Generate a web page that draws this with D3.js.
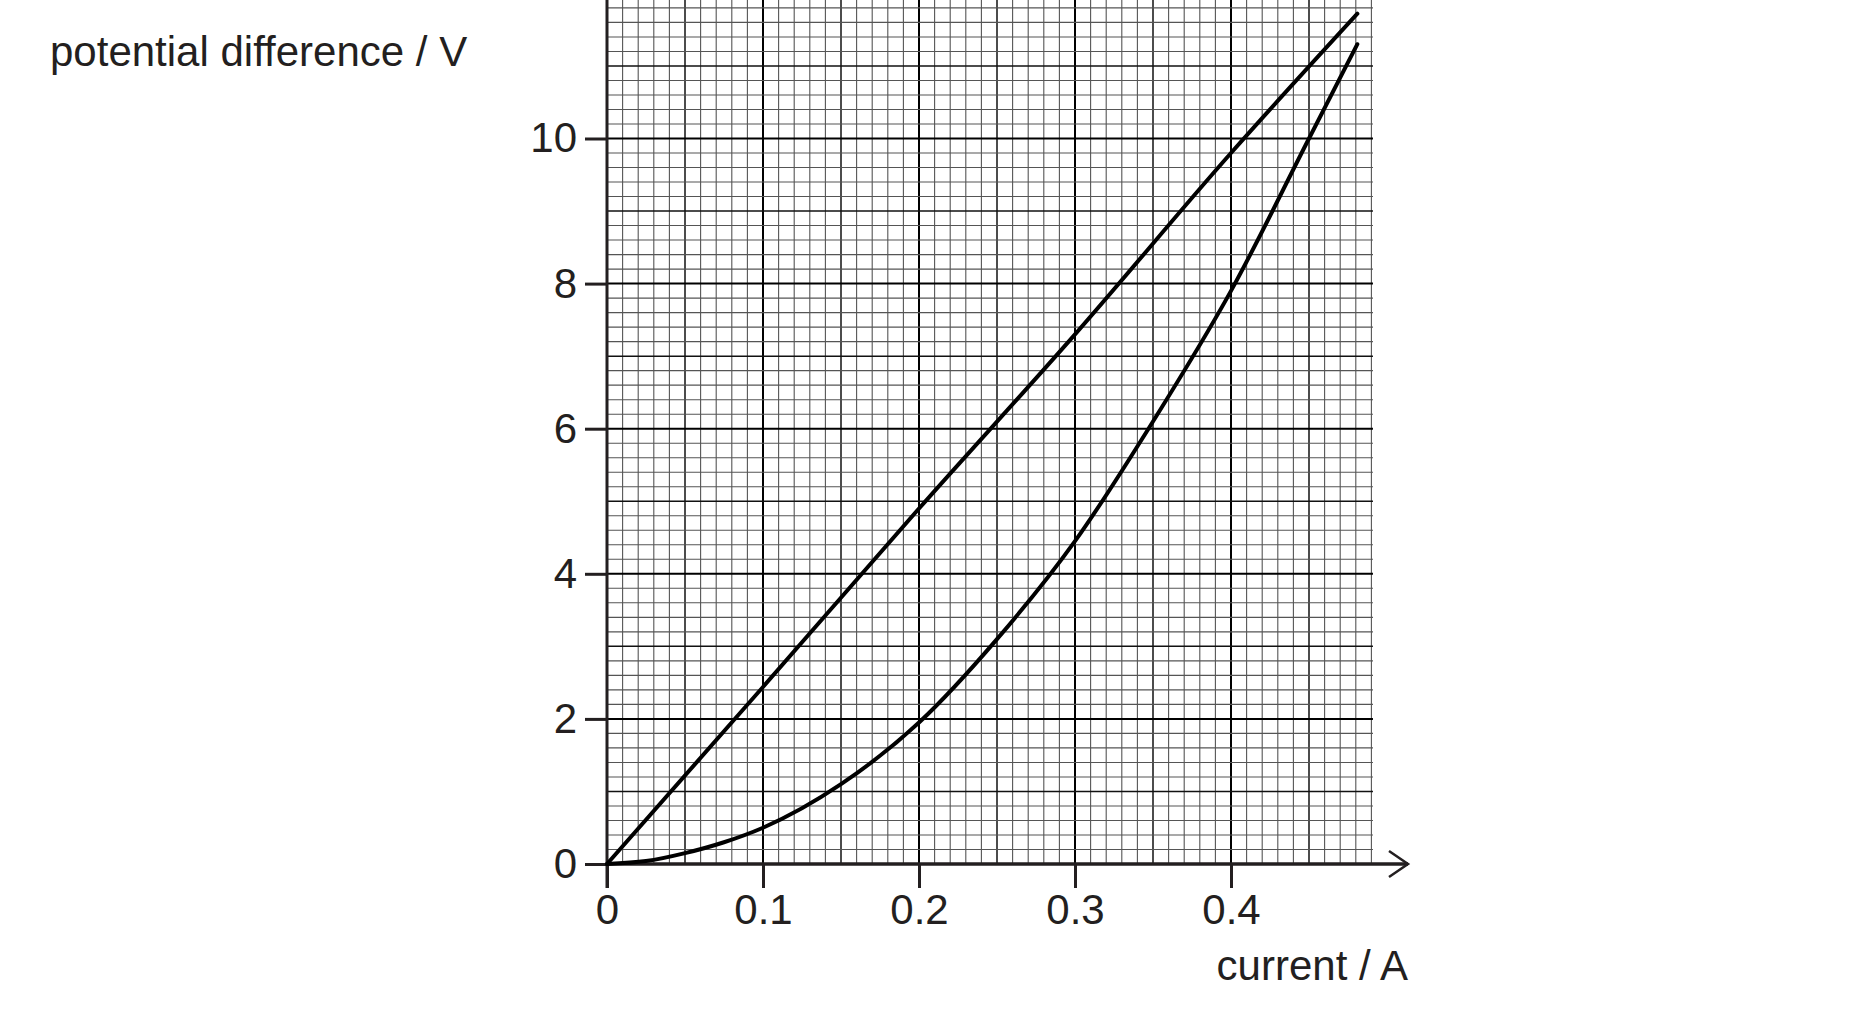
<!DOCTYPE html>
<html><head><meta charset="utf-8">
<script src="https://cdn.jsdelivr.net/npm/d3@7"></script>
<style>body{margin:0;background:#fff}text{font-family:"Liberation Sans",Arial,sans-serif;fill:#231f20}</style>
</head><body><svg id="c" width="1855" height="1022"></svg>
<script>
// data
var xTicks = [0, 0.1, 0.2, 0.3, 0.4];
var yTicks = [0, 2, 4, 6, 8, 10];
var lineA = [[0,0],[0.1,2.44],[0.2,4.9],[0.3,7.3],[0.4,9.8],[0.481,11.72]];
var curveB = [[0,0],[0.025,0.04],[0.05,0.15],[0.075,0.3],[0.1,0.5],[0.15,1.1],[0.2,1.95],[0.25,3.1],[0.3,4.45],[0.35,6.1],[0.4,7.9],[0.45,10.0],[0.481,11.3]];

var svg = d3.select("#c");
var x = d3.scaleLinear().domain([0, 0.1]).range([607, 763]);
var y = d3.scaleLinear().domain([0, 10]).range([864, 138.5]);
var xMax = 0.491, yMax = y.invert(0);

var grid = svg.append("g");
d3.range(0, xMax + 1e-6, 0.01).forEach(function(v, i) {
    var major = i % 10 === 0;
    grid.append("line").attr("x1", x(v)).attr("x2", x(v)).attr("y1", 0).attr("y2", y(0))
        .attr("stroke", major ? "#000" : (i % 5 === 0 ? "#111" : "#555"))
        .attr("stroke-width", major ? 2 : (i % 5 === 0 ? 1.5 : 1.1));
});
d3.range(0, yMax, 0.2).forEach(function(v, i) {
    var major = i % 10 === 0;
    grid.append("line").attr("x1", x(0)).attr("x2", x(xMax)).attr("y1", y(v)).attr("y2", y(v))
        .attr("stroke", major ? "#000" : (i % 5 === 0 ? "#111" : "#555"))
        .attr("stroke-width", major ? 2 : (i % 5 === 0 ? 1.5 : 1.1));
});

// axes
svg.append("line").attr("x1", x(0)).attr("x2", 1408).attr("y1", y(0)).attr("y2", y(0)).attr("stroke", "#231f20").attr("stroke-width", 3.5);
svg.append("path").attr("d", "M1389,851L1408,864L1389,877").attr("fill", "none").attr("stroke", "#231f20").attr("stroke-width", 2.5);
svg.append("line").attr("x1", x(0)).attr("x2", x(0)).attr("y1", 0).attr("y2", y(0) + 24).attr("stroke", "#231f20").attr("stroke-width", 3);

var xa = svg.append("g").attr("transform", "translate(0," + y(0) + ")")
    .call(d3.axisBottom(x).tickValues(xTicks).tickSize(24).tickPadding(6).tickFormat(function(d){ return d === 0 ? "0" : d3.format(".1f")(d); }));
xa.select(".domain").remove();
xa.selectAll("line").attr("stroke", "#231f20").attr("stroke-width", 3);
xa.selectAll("text").attr("font-size", 42).attr("fill", "#231f20");

var ya = svg.append("g").attr("transform", "translate(" + x(0) + ",0)")
    .call(d3.axisLeft(y).tickValues(yTicks).tickSize(22).tickPadding(8));
ya.select(".domain").remove();
ya.selectAll("line").attr("stroke", "#231f20").attr("stroke-width", 3);
ya.selectAll("text").attr("font-size", 42).attr("fill", "#231f20");

var line = d3.line().x(function(d){ return x(d[0]); }).y(function(d){ return y(d[1]); }).curve(d3.curveMonotoneX);
[lineA, curveB].forEach(function(s) {
    svg.append("path").attr("d", line(s)).attr("fill", "none").attr("stroke", "#000").attr("stroke-width", 4).attr("stroke-linecap", "round");
});

svg.append("text").attr("x", 50).attr("y", 66).attr("font-size", 42).text("potential difference / V");
svg.append("text").attr("x", 1408).attr("y", 980).attr("text-anchor", "end").attr("font-size", 42).text("current / A");
</script></body></html>
